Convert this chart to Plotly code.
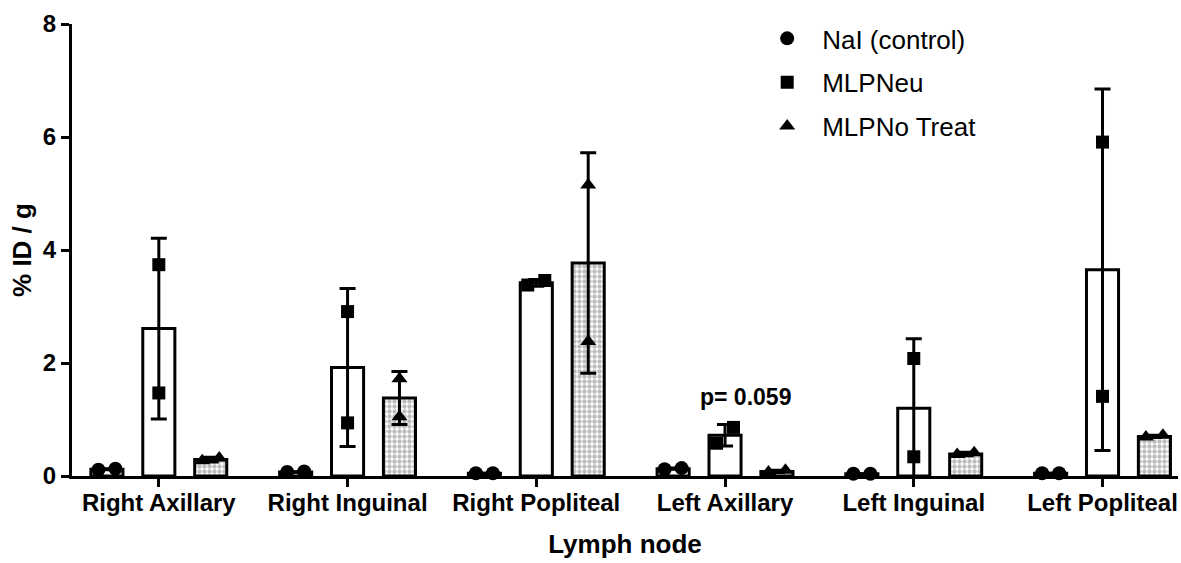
import plotly.graph_objects as go

categories = ["Right Axillary", "Right Inguinal", "Right Popliteal",
              "Left Axillary", "Left Inguinal", "Left Popliteal"]
series_names = ["NaI (control)", "MLPNeu", "MLPNo Treat"]

# bar means (% ID / g)
nai_mean = [0.12, 0.07, 0.05, 0.13, 0.04, 0.05]
neu_mean = [2.61, 1.92, 3.42, 0.72, 1.20, 3.65]
notreat_mean = [0.29, 1.38, 3.77, 0.08, 0.39, 0.70]

# error bars (SD)
nai_sd = [0.01, 0.005, 0.0, 0.01, 0.0, 0.0]
neu_sd = [1.60, 1.40, 0.06, 0.19, 1.23, 3.20]
notreat_sd = [0.04, 0.47, 1.95, 0.02, 0.03, 0.02]

# individual points
nai_pts = [[0.11, 0.13], [0.07, 0.08], [0.05, 0.05], [0.12, 0.14], [0.04, 0.04], [0.05, 0.05]]
neu_pts = [[3.74, 1.47], [2.91, 0.94], [3.38, 3.46], [0.58, 0.86], [2.08, 0.34], [5.91, 1.41]]
notreat_pts = [[0.27, 0.32], [1.72, 1.05], [5.15, 2.38], [0.07, 0.10], [0.38, 0.41], [0.69, 0.72]]

y_ticks = [0, 2, 4, 6, 8]
annotation_text = "p= 0.059"
annot_cat = 3

FONT = "Liberation Sans, Arial, Helvetica, sans-serif"
OFFSET = 0.275
BARW = 0.17
SPREAD = 0.045

fig = go.Figure()

bar_specs = [
    (nai_mean, nai_sd, -OFFSET, dict(color="white")),
    (neu_mean, neu_sd, 0.0, dict(color="white")),
    (notreat_mean, notreat_sd, OFFSET,
     dict(color="#c0c0c0", pattern=dict(shape=".", fgcolor="#7a7a7a", bgcolor="#ffffff",
                                        size=5, solidity=0.6))),
]
for means, sds, off, mk in bar_specs:
    xs = [i + off for i in range(len(categories))]
    fig.add_trace(go.Bar(
        x=xs, y=means, width=BARW, showlegend=False,
        marker=dict(line=dict(color="black", width=3), **mk),
        error_y=dict(type="data", array=sds, visible=True, color="black",
                     thickness=3, width=8),
        hoverinfo="skip"))

pt_specs = [
    (nai_pts, -OFFSET, "circle", series_names[0], 14),
    (neu_pts, 0.0, "square", series_names[1], 13),
    (notreat_pts, OFFSET, "triangle-up", series_names[2], 14),
]
for k, (pts, off, sym, name, sz) in enumerate(pt_specs):
    xs, ys = [], []
    for i, vals in enumerate(pts):
        close = abs(vals[0] - vals[1]) < 0.3
        for j, v in enumerate(vals):
            dx = (SPREAD if j else -SPREAD) if close else 0.0
            xs.append(i + off + dx)
            ys.append(v)
    fig.add_trace(go.Scatter(
        x=xs, y=ys, mode="markers", name=name, legendgroup=f"g{k}",
        marker=dict(symbol=sym, size=sz, color="black", line=dict(width=0)),
        cliponaxis=False))

fig.add_annotation(x=annot_cat, y=neu_mean[annot_cat] + neu_sd[annot_cat],
                   yshift=28, xshift=20, text=annotation_text, showarrow=False,
                   font=dict(family=FONT, size=23, color="black", weight="bold"))

fig.update_layout(
    width=1181, height=563,
    margin=dict(l=72, r=3, t=24, b=87, autoexpand=False),
    plot_bgcolor="white", paper_bgcolor="white",
    font=dict(family=FONT, color="black"),
    barmode="overlay",
    legend=dict(x=0.615, y=1.02, xanchor="left", yanchor="top",
                font=dict(family=FONT, size=26, color="black"),
                tracegroupgap=7, itemwidth=60, bgcolor="rgba(0,0,0,0)"),
    xaxis=dict(range=[-0.46, 5.4], tickmode="array", automargin=False,
               tickvals=list(range(len(categories))), ticktext=categories,
               showline=True, linewidth=3, linecolor="black",
               ticks="outside", ticklen=8, tickwidth=3, tickcolor="black",
               showgrid=False, zeroline=False, ticklabelstandoff=-5,
               tickfont=dict(family=FONT, size=24, color="black", weight="bold"),
               title=dict(text="Lymph node", standoff=21,
                          font=dict(family=FONT, size=26, color="black", weight="bold"))),
    yaxis=dict(range=[0, 8], tickmode="array", tickvals=y_ticks, automargin=False,
               showline=True, linewidth=3, linecolor="black",
               ticks="outside", ticklen=8, tickwidth=3, tickcolor="black",
               showgrid=False, zeroline=False,
               tickfont=dict(family=FONT, size=24, color="black", weight="bold"),
               title=dict(text="% ID / g", standoff=4,
                          font=dict(family=FONT, size=26, color="black", weight="bold"))),
)

fig.write_html("out.html", config={"displayModeBar": False},
               post_script="document.body.style.margin='0';document.body.style.overflow='hidden';")
